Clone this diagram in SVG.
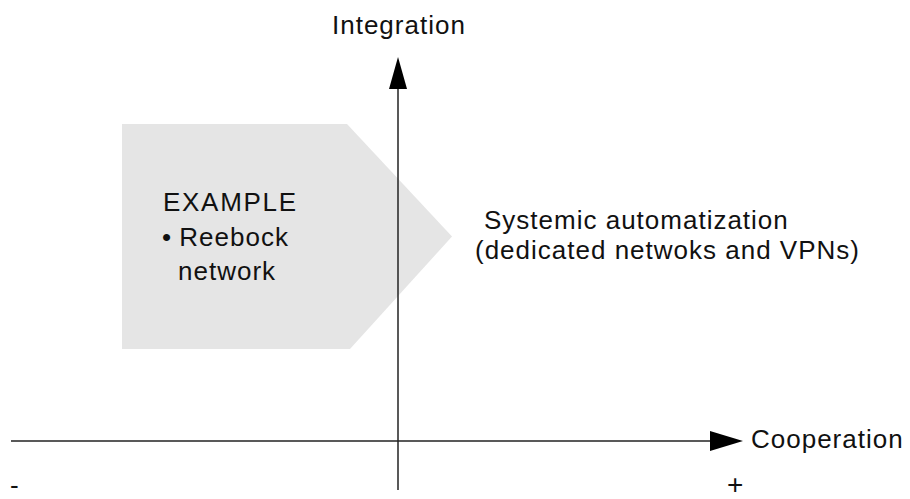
<svg xmlns="http://www.w3.org/2000/svg" width="910" height="499" viewBox="0 0 910 499">
  <style>
    .lbl { font-family: "Liberation Sans", Arial, sans-serif; font-size: 26px; letter-spacing: 1px; fill: #111; }
    .axis { stroke: #222; stroke-width: 1.5; fill: none; }
    .head { fill: #000; }
  </style>
  <rect width="910" height="499" fill="#fff"/>

  <!-- shaded example region -->
  <g id="example">
    <polygon points="122,124 347,124 452,236.5 350,349 122,349" fill="#e5e5e5"/>
    <text class="lbl" x="163" y="211" style="letter-spacing:1.7px">EXAMPLE</text>
    <text class="lbl" x="162" y="246"><tspan style="letter-spacing:0">•</tspan> Reebock</text>
    <text class="lbl" x="178" y="280">network</text>
  </g>

  <!-- axes -->
  <g id="connectors">
    <line class="axis" x1="398" y1="88" x2="398" y2="490"/>
    <polygon class="head" points="398,57 389,89 407,89"/>
    <line class="axis" x1="11" y1="441" x2="711" y2="441"/>
    <polygon class="head" points="743,441 710,431 710,451"/>
  </g>

  <g id="integration">
    <text class="lbl" x="332" y="34">Integration</text>
  </g>
  <g id="cooperation">
    <text class="lbl" x="751" y="448">Cooperation</text>
  </g>
  <g id="systemic">
    <text class="lbl" x="484" y="229">Systemic automatization</text>
    <text class="lbl" x="475" y="259">(dedicated netwoks and VPNs)</text>
  </g>
  <g id="signs">
    <text class="lbl" x="10" y="494" style="letter-spacing:0">-</text>
    <text class="lbl" x="727" y="494" style="font-size:28px;letter-spacing:0">+</text>
  </g>
</svg>
